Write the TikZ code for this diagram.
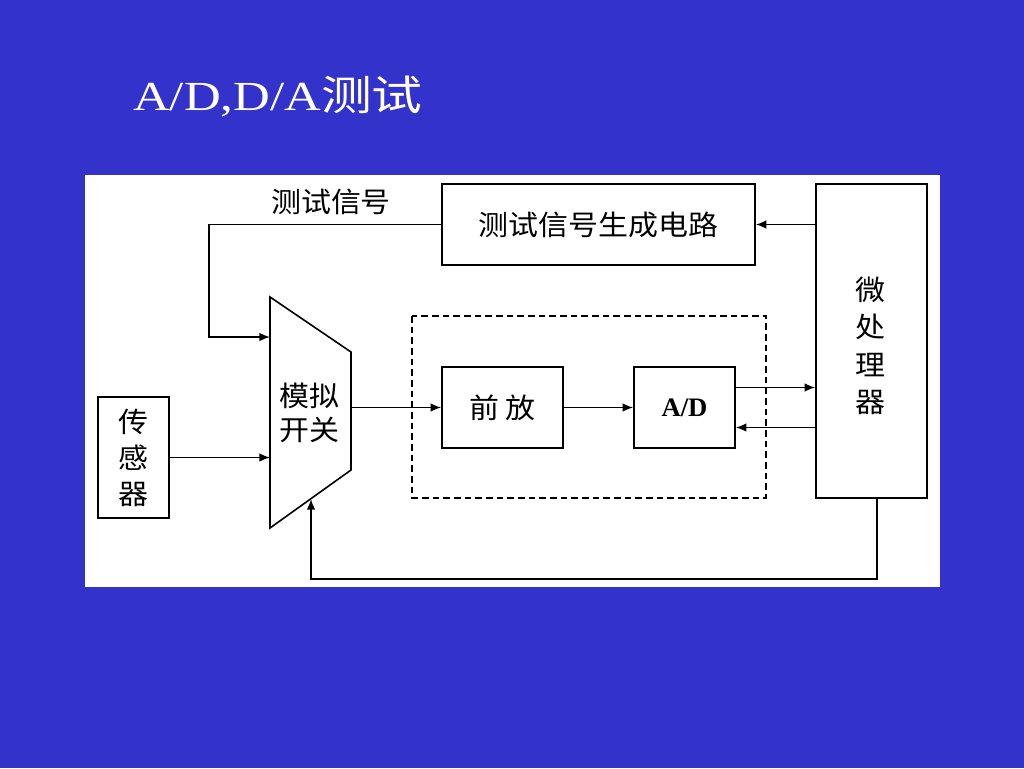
\documentclass[tikz,border=0pt]{standalone}
\usepackage{fontspec}
\setmainfont{Liberation Serif}
\newfontfamily\cjk[FakeStretch=1.07]{Noto Sans CJK SC}
\newfontfamily\titlefont[FakeStretch=1.23]{Liberation Serif}
\newfontfamily\titlecjk[FakeStretch=1.23]{Noto Sans CJK SC}
\usetikzlibrary{arrows.meta}
\definecolor{slideblue}{RGB}{51,51,204}

\begin{document}
\begin{tikzpicture}[x=0.75pt,y=-0.75pt]
			\tikzset{>={Latex[length=8pt,width=6.5pt]}}
			\tikzset{blk/.style={draw,line width=1.2pt,inner sep=0pt,align=center,
					font=\cjk\fontsize{21}{27}\selectfont}}
			\tikzset{wire/.style={line width=1.2pt}}

			% slide and white panel
			\fill[slideblue] (0,0) rectangle (1024,768);
			\fill[white] (85,175) rectangle (940,587);
			\node[white,anchor=base west,inner sep=0pt,font=\titlefont\fontsize{31}{36}\selectfont] (title) at (133,110) {A/D,D/A{\titlecjk 测试}};

			% boxes
			\node[blk,minimum width=234.75pt,minimum height=60.75pt] (gen) at (598.5,224.5) {测试信号生成电路};
			\node[blk,minimum width=83.25pt,minimum height=235.5pt] (micro) at (871.5,341) {};
			\node[inner sep=0pt,align=center,font=\cjk\fontsize{21}{28}\selectfont] (microtxt) at (870,346) {微\\处\\理\\器};
			\node[blk,minimum width=90.75pt,minimum height=60.75pt] (pre) at (502.5,407.5) {前\hspace{5pt}放};
			\node[blk,minimum width=75.75pt,minimum height=60.75pt,font=\bfseries\fontsize{20}{24}\selectfont] (ad) at (684.5,407.5) {A/D};
			\node[blk,minimum width=53.25pt,minimum height=90.75pt] (sensor) at (133.5,457.5) {传\\感\\器};
			\draw[line width=1.2pt,dash pattern=on 5pt off 3pt] (412,316) rectangle (766,498);

			% analog switch
			\draw[line width=1.2pt] (270,297) -- (351,352) -- (351,470) -- (270,528) -- cycle;
			\node[inner sep=0pt,align=center,font=\cjk\fontsize{21}{25}\selectfont] (mux) at (309,413) {模拟\\开关};
			\coordinate (muxin1) at (270,337);
			\coordinate (muxin2) at (270,457.5);
			\coordinate (muxout) at (351,407.5);
			\coordinate (muxbot) at (311,499);
			\coordinate (bend) at (209,337);
			\coordinate (loop) at (311,579);

			\node[inner sep=0pt,font=\cjk\fontsize{21}{25}\selectfont] (tsig) at (331,202) {测试信号};

			% connectors
			\draw[wire,->] (gen.west) -| (bend) -- (muxin1);
			\draw[wire,->] (sensor.east) -- (muxin2);
			\draw[wire,->] (muxout) -- (pre.west);
			\draw[wire,->] (pre.east) -- (ad.west);
			\draw[wire,->] ([yshift=15pt]ad.east) -- ([yshift=15pt]ad.east -| micro.west);
			\draw[wire,->] ([yshift=-15pt]ad.east -| micro.west) -- ([yshift=-15pt]ad.east);
			\draw[wire,->] (micro.west |- gen.east) -- (gen.east);
			\draw[wire,->] ([xshift=4pt]micro.south) |- (loop) -- (muxbot);
\end{tikzpicture}
\end{document}
